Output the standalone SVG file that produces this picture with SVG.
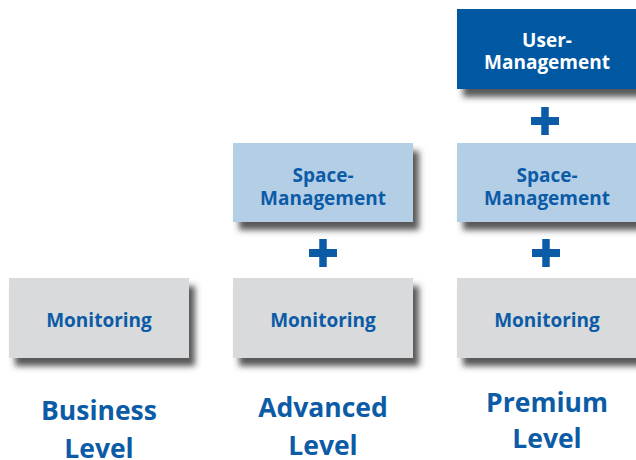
<svg xmlns="http://www.w3.org/2000/svg" width="636" height="460" viewBox="0 0 636 460">
<defs>
<style>
.lbl{font-family:"Open Sans","Liberation Sans",sans-serif;font-weight:bold;font-size:19px;text-anchor:middle;fill:#0c5ba6}
.lblw{fill:#ffffff}
.lvl{font-family:"Open Sans","Liberation Sans",sans-serif;font-weight:bold;font-size:26.5px;text-anchor:middle;fill:#0c5ba6}
.gray{fill:#d9dadc}
.light{fill:#b4cee6}
.dark{fill:#0058a3}
.plus{fill:#0c5ba6}
</style>
<filter id="sh" x="-10%" y="-10%" width="130%" height="140%">
<feDropShadow dx="6" dy="8" stdDeviation="3" flood-color="#3a3a3a" flood-opacity="0.85"/>
</filter>
<g id="plusShape">
<rect x="-14" y="-4" width="28" height="8"/>
<rect x="-3.75" y="-14" width="7.5" height="28"/>
</g>
</defs>
<rect width="636" height="460" fill="#ffffff"/>

<g id="business-monitoring">
<rect class="gray" x="9" y="278" width="180" height="80" filter="url(#sh)"/>
<text class="lbl" x="99" y="327">Monitoring</text>
</g>
<g id="advanced-monitoring">
<rect class="gray" x="233" y="278" width="180" height="80" filter="url(#sh)"/>
<text class="lbl" x="323" y="327">Monitoring</text>
</g>
<g id="premium-monitoring">
<rect class="gray" x="457" y="278" width="181" height="80" filter="url(#sh)"/>
<text class="lbl" x="547" y="327">Monitoring</text>
</g>
<g id="advanced-space">
<rect class="light" x="233" y="143" width="180" height="79" filter="url(#sh)"/>
<text class="lbl" x="323" y="182">Space-</text>
<text class="lbl" x="323" y="204.5">Management</text>
</g>
<g id="premium-space">
<rect class="light" x="457" y="143" width="181" height="79" filter="url(#sh)"/>
<text class="lbl" x="547" y="182">Space-</text>
<text class="lbl" x="547" y="204.5">Management</text>
</g>
<g id="premium-user">
<rect class="dark" x="457" y="9" width="181" height="80" filter="url(#sh)"/>
<text class="lbl lblw" x="547" y="46.5">User-</text>
<text class="lbl lblw" x="547" y="69">Management</text>
</g>

<g id="connectors" class="plus">
<use href="#plusShape" x="323" y="253"/>
<use href="#plusShape" x="546" y="253"/>
<use href="#plusShape" x="545" y="121"/>
</g>

<g id="levels">
<text class="lvl" x="99" y="420">Business</text>
<text class="lvl" x="99" y="458">Level</text>
<text class="lvl" x="323" y="417">Advanced</text>
<text class="lvl" x="323" y="455">Level</text>
<text class="lvl" x="547" y="412">Premium</text>
<text class="lvl" x="547" y="448">Level</text>
</g>
</svg>
